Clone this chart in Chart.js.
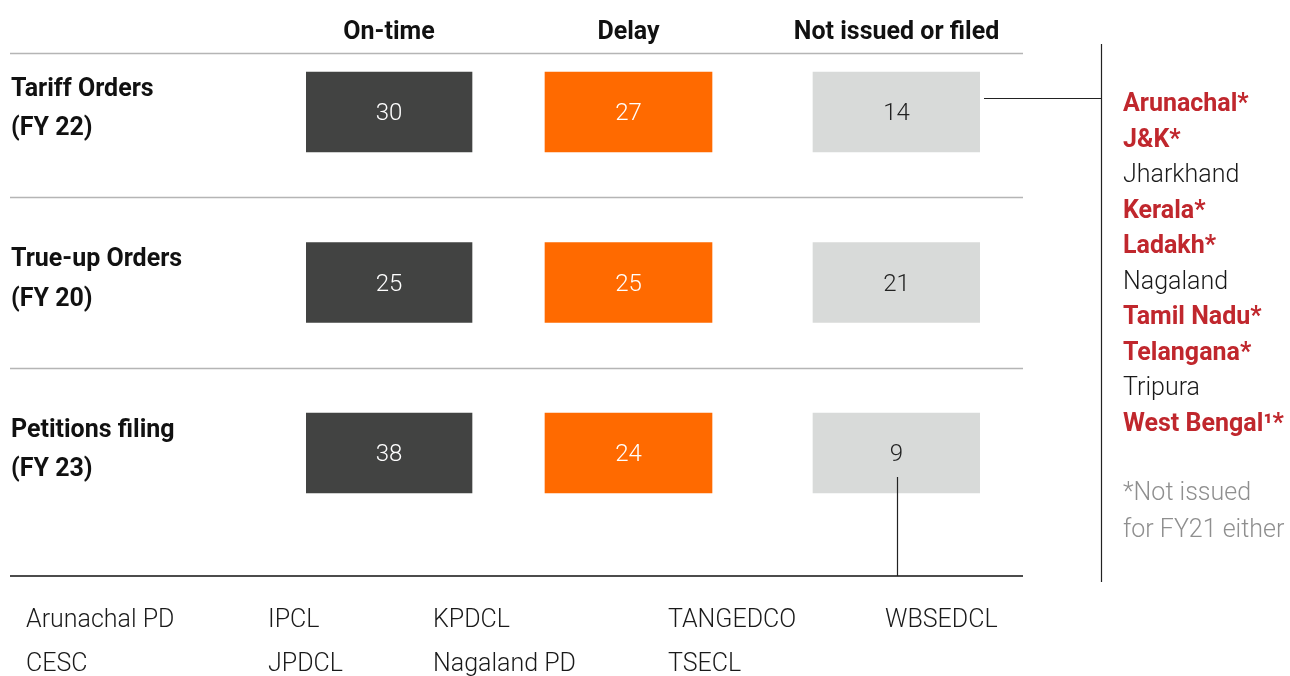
<!DOCTYPE html>
<html>
<head>
<meta charset="utf-8">
<script src="https://cdn.jsdelivr.net/npm/chart.js@4/dist/chart.umd.min.js"></script>
<style>
  html, body { margin: 0; padding: 0; background: #ffffff; }
  #wrap { width: 1290px; height: 676px; position: relative; }
</style>
</head>
<body>
<div id="wrap"><canvas id="board" width="1290" height="676"></canvas></div>
<script>
// Regulatory process status by order type
const ROW_LABELS = [['Tariff Orders', '(FY 22)'], ['True-up Orders', '(FY 20)'], ['Petitions filing', '(FY 23)']];
const STATUS_LABELS = ['On-time', 'Delay', 'Not issued or filed'];
const ON_TIME = [30, 25, 38];
const DELAYED = [27, 25, 24];
const NOT_ISSUED = [14, 21, 9];

// States without a FY22 tariff order (flag = also not issued for FY21)
const PENDING_STATES = ['Arunachal*', 'J&K*', 'Jharkhand', 'Kerala*', 'Ladakh*', 'Nagaland', 'Tamil Nadu*', 'Telangana*', 'Tripura', 'West Bengal\u00B9*'];
const ALSO_FY21 = [true, true, false, true, true, false, true, true, false, true];
const FOOTNOTE = ['*Not issued', 'for FY21 either'];

// Utilities that did not file FY23 petitions
const PENDING_UTILITIES = ['Arunachal PD', 'CESC', 'IPCL', 'JPDCL', 'KPDCL', 'Nagaland PD', 'TANGEDCO', 'TSECL', 'WBSEDCL'];

// ---- layout ----
const FONT = 'Roboto, "Open Sans", sans-serif';
const TILE_SLOTS = [[0, 166], [239, 406], [507, 674]];   // horizontal span of each status column (x scale units)
const TILE_COLORS = ['#424342', '#FF6A00', '#D8DAD9'];
const TILE_TEXT = ['#ffffff', '#ffffff', '#222222'];
const SERIES = [ON_TIME, DELAYED, NOT_ISSUED];

const datasets = STATUS_LABELS.map((name, i) => ({
  label: name,
  values: SERIES[i],
  data: SERIES[i].map(() => TILE_SLOTS[i]),
  backgroundColor: TILE_COLORS[i],
  borderWidth: 0,
  borderSkipped: false,
  barThickness: 80,
  grouped: false
}));

const decor = {
  id: 'decor',
  afterDatasetsDraw(chart) {
    const { ctx } = chart;
    const xs = chart.scales.x, ys = chart.scales.y;
    ctx.save();

    // values inside tiles
    ctx.textAlign = 'center';
    ctx.textBaseline = 'middle';
    ctx.font = '300 24px ' + FONT;
    chart.data.datasets.forEach((ds, i) => {
      chart.getDatasetMeta(i).data.forEach((bar, j) => {
        ctx.fillStyle = TILE_TEXT[i];
        ctx.fillText(String(ds.values[j]), (bar.x + bar.base) / 2, bar.y + 2);
      });
    });

    // column headers
    ctx.textBaseline = 'alphabetic';
    ctx.font = 'bold 25px ' + FONT;
    ctx.fillStyle = '#111111';
    STATUS_LABELS.forEach((h, i) => {
      const cx = xs.getPixelForValue((TILE_SLOTS[i][0] + TILE_SLOTS[i][1]) / 2);
      ctx.fillText(h, cx, 39);
    });

    // rules
    const left = 10, right = 1023;
    ctx.lineWidth = 1.5;
    ctx.strokeStyle = '#b5b5b5';
    ctx.beginPath();
    ctx.moveTo(left, 53.5); ctx.lineTo(right, 53.5);
    for (let r = 0; r < ROW_LABELS.length - 1; r++) {
      const y = Math.round((ys.getPixelForValue(r) + ys.getPixelForValue(r + 1)) / 2) + 0.5;
      ctx.moveTo(left, y); ctx.lineTo(right, y);
    }
    ctx.stroke();

    ctx.strokeStyle = '#111111';
    ctx.beginPath();
    ctx.moveTo(left, 576); ctx.lineTo(right, 576);
    ctx.stroke();

    // connectors
    const tariffGap = chart.getDatasetMeta(2).data[0];
    const petitionGap = chart.getDatasetMeta(2).data[2];
    ctx.lineWidth = 1.2;
    ctx.strokeStyle = '#222222';
    ctx.beginPath();
    ctx.moveTo(tariffGap.x + 4, 98.5); ctx.lineTo(1101, 98.5);
    ctx.moveTo(1101.5, 44); ctx.lineTo(1101.5, 582);
    const px = Math.round((petitionGap.x + petitionGap.base) / 2) + 0.5;
    ctx.moveTo(px, petitionGap.y + 24); ctx.lineTo(px, 576);
    ctx.stroke();

    // side list of states
    ctx.textAlign = 'left';
    PENDING_STATES.forEach((s, i) => {
      const y = 111 + i * 35.55;
      if (ALSO_FY21[i]) {
        ctx.font = 'bold 25px ' + FONT;
        ctx.fillStyle = '#C0272D';
      } else {
        ctx.font = '300 25px ' + FONT;
        ctx.fillStyle = '#1a1a1a';
      }
      ctx.fillText(s, 1123, y);
    });
    ctx.font = '300 25px ' + FONT;
    ctx.fillStyle = '#8f8f8f';
    FOOTNOTE.forEach((t, i) => ctx.fillText(t, 1123, 500 + i * 37));

    // utilities list (two per column)
    const colX = [26, 268, 433, 668, 885];
    ctx.fillStyle = '#1a1a1a';
    PENDING_UTILITIES.forEach((u, i) => {
      ctx.fillText(u, colX[Math.floor(i / 2)], 626.5 + (i % 2) * 44.5);
    });

    ctx.restore();
  }
};

new Chart(document.getElementById('board'), {
  type: 'bar',
  data: { labels: ROW_LABELS, datasets },
  options: {
    indexAxis: 'y',
    responsive: false,
    animation: false,
    devicePixelRatio: 1,
    layout: { padding: { left: 11, right: 310, top: 26.75, bottom: 137.75 } },
    plugins: { legend: { display: false }, tooltip: { enabled: false } },
    scales: {
      x: { type: 'linear', min: 0, max: 674, display: false },
      y: {
        type: 'category',
        offset: true,
        grid: { display: false },
        border: { display: false },
        afterFit(scale) {
          scale.width = 295;
          scale.paddingTop = 0;
          scale.paddingBottom = 0;
        },
        ticks: {
          crossAlign: 'far',
          padding: 0,
          labelOffset: -3,
          color: '#111111',
          font: { family: FONT, size: 25, weight: 'bold', lineHeight: 1.58 }
        }
      }
    }
  },
  plugins: [decor]
});
</script>
</body>
</html>
